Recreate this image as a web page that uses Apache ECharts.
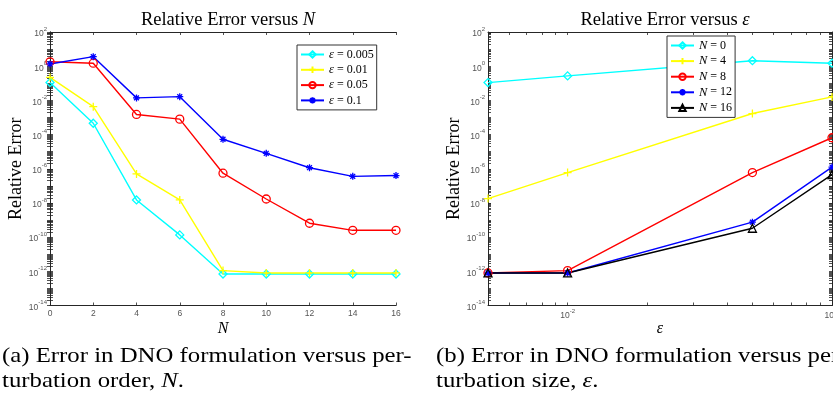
<!DOCTYPE html>
<html>
<head>
<meta charset="utf-8">
<script src="https://cdn.jsdelivr.net/npm/echarts@6/dist/echarts.min.js"></script>
<style>
  html, body { margin: 0; padding: 0; background: #fff; }
  #chart { width: 833px; height: 395px; }
</style>
</head>
<body>
<div id="chart"></div>
<script>
// left panel: error vs perturbation order N
const orders = [0, 2, 4, 6, 8, 10, 12, 14, 16]
const errEps0005 = [1.1e-1, 4.6e-4, 1.5e-8, 1.35e-10, 7e-13, 7e-13, 7e-13, 7e-13, 7e-13]
const errEps001 = [2.2e-1, 4.3e-3, 5e-7, 1.5e-8, 1.1e-12, 8e-13, 8e-13, 8e-13, 8e-13]
const errEps005 = [1.8, 1.5, 1.5e-3, 8e-4, 5.5e-7, 1.7e-8, 6.5e-10, 2.5e-10, 2.5e-10]
const errEps01 = [1.35, 3.6, 1.4e-2, 1.65e-2, 5.3e-5, 8e-6, 1.15e-6, 3.6e-7, 4e-7]

// right panel: error vs perturbation size eps
const epsValues = [0.005, 0.01, 0.05, 0.1]
const errN0 = [0.11, 0.27, 2.1, 1.5]
const errN4 = [1.8e-8, 6e-7, 1.7e-3, 1.6e-2]
const errN8 = [8e-13, 1.1e-12, 6e-7, 6.5e-5]
const errN12 = [8e-13, 8e-13, 7.5e-10, 1.25e-6]
const errN16 = [8e-13, 8e-13, 3.3e-10, 4.5e-7]

// tick labels
const nTickLabels = [0, 2, 4, 6, 8, 10, 12, 14, 16]
const errTickLabels = [1e-14, 1e-12, 1e-10, 1e-8, 1e-6, 1e-4, 1e-2, 1, 1e2]
const epsTickLabels = [0.01, 0.1]

// log minor tick positions (1..9 x 10^e)
function logTicks(lo, hi) {
  const out = []
  for (let e = lo; e < hi; e++) {
    for (let k = 1; k <= 9; k++) out.push(+(k * Math.pow(10, e)).toPrecision(3))
  }
  out.push(Math.pow(10, hi))
  return out
}
const errTicks = logTicks(-14, 2)
const epsTicks = logTicks(-3, -1).filter(v => v >= 0.005)

const serif = 'Liberation Serif, Times New Roman, serif'
const sans = 'Liberation Sans, Arial, sans-serif'
const axisColor = '#262626'

const expLabel = {
  color: '#555',
  fontFamily: sans,
  formatter: v => `{b|10}{s|${Math.round(Math.log10(v))}}`,
  rich: {
    b: { fontSize: 8.5, fontFamily: sans, color: '#555', lineHeight: 9, padding: [4, 0, 0, 0] },
    s: { fontSize: 6, fontFamily: sans, color: '#555', lineHeight: 7, padding: [0, 0, 6, 0] },
  },
}

function yAxis(gridIndex, position) {
  const ax = {
    type: 'log',
    logBase: 10,
    gridIndex,
    position,
    min: 1e-14,
    max: 1e2,
    axisLine: { show: true, lineStyle: { color: axisColor, width: 1 } },
    axisTick: { show: true, inside: true, length: 3, customValues: errTicks, lineStyle: { color: axisColor, width: 0.8 } },
    splitLine: { show: false },
    axisLabel: { show: false },
  }
  if (position === 'left') {
    ax.name = 'Relative Error'
    ax.nameLocation = 'middle'
    ax.nameGap = 25
    ax.nameMoveOverlap = false
    ax.nameTextStyle = { fontFamily: serif, fontSize: 18, color: '#000' }
    ax.axisLabel = { ...expLabel, margin: 3, customValues: errTickLabels }
  }
  return ax
}

function xAxis(gridIndex, position) {
  const isLog = gridIndex === 1
  const ax = {
    type: isLog ? 'log' : 'value',
    gridIndex,
    position,
    min: isLog ? 0.005 : 0,
    max: isLog ? 0.1 : 16,
    axisLine: { show: true, lineStyle: { color: axisColor } },
    axisTick: {
      show: true, inside: true, length: 3,
      customValues: isLog ? epsTicks : nTickLabels,
      lineStyle: { color: axisColor, width: 0.8 },
    },
    axisLabel: { show: false },
    splitLine: { show: false },
  }
  if (isLog) ax.logBase = 10
  if (position === 'bottom') {
    ax.name = isLog ? 'ε' : 'N'
    ax.nameLocation = 'middle'
    ax.nameGap = 15
    ax.nameMoveOverlap = false
    ax.nameTextStyle = { fontFamily: serif, fontSize: 16, fontStyle: 'italic', color: '#000' }
    ax.axisLabel = isLog
      ? { ...expLabel, margin: 4, customValues: epsTickLabels }
      : { color: '#555', fontFamily: sans, fontSize: 8.5, margin: 4, customValues: nTickLabels }
  }
  return ax
}

function mk(name, xs, ys, color, symbol, size, hollow, idx) {
  return {
    name,
    type: 'line',
    xAxisIndex: idx,
    yAxisIndex: idx,
    data: xs.map((x, i) => [x, ys[i]]),
    symbol,
    symbolSize: size,
    showSymbol: true,
    lineStyle: { color, width: 1.4 },
    itemStyle: {
      color: hollow ? 'rgba(255,255,255,0)' : color,
      borderColor: color,
      borderWidth: 1.3,
    },
    emphasis: { disabled: true },
  }
}

const plusPath = 'path://M0,5L10,5M5,0L5,10'
const starPath = 'path://M0,5L10,5M5,0L5,10M1.5,1.5L8.5,8.5M1.5,8.5L8.5,1.5'

const legendText = {
  fontFamily: serif,
  fontSize: 12,
  color: '#000',
  lineHeight: 15,
  rich: { i: { fontFamily: serif, fontSize: 12.5, fontStyle: 'italic', color: '#000', lineHeight: 15 } },
}
const legendFormatter = n => n.replace(/^(ε|N)/, '{i|$1}')

function legend(names, left, top, gap) {
  return {
    data: names,
    orient: 'vertical',
    left,
    top,
    itemWidth: 23,
    itemHeight: 8,
    itemGap: gap,
    padding: [2, 3, 2, 3],
    backgroundColor: '#fff',
    borderColor: '#333',
    borderWidth: 1,
    borderRadius: 0,
    textStyle: legendText,
    formatter: legendFormatter,
    selectedMode: false,
  }
}

function title(text, cx) {
  return {
    text,
    left: cx,
    top: 6,
    textAlign: 'center',
    textStyle: {
      fontFamily: serif, fontSize: 18.5, fontWeight: 'normal', color: '#000',
      rich: { i: { fontFamily: serif, fontSize: 18.5, fontStyle: 'italic', color: '#000' } },
    },
  }
}

function caption(text, x, y) {
  return {
    type: 'text', x, y, scaleX: 1.18,
    style: {
      text, fontFamily: serif, fontSize: 21, fill: '#000', verticalAlign: 'middle',
      rich: { i: { fontFamily: serif, fontSize: 21, fontStyle: 'italic', fill: '#000' } },
    },
  }
}

const chart = echarts.init(document.getElementById('chart'))
chart.setOption({
  animation: false,
  backgroundColor: '#fff',
  title: [title('Relative Error versus {i|N}', 223), title('Relative Error versus {i|ε}', 660)],
  grid: [
    { left: 50, top: 32, width: 346, height: 273.5, outerBoundsMode: 'none', containLabel: false },
    { left: 488, top: 32, width: 344, height: 273.5, outerBoundsMode: 'none', containLabel: false },
  ],
  // 0,1: bottom axes; 2,3: top mirrors
  xAxis: [xAxis(0, 'bottom'), xAxis(1, 'bottom'), xAxis(0, 'top'), xAxis(1, 'top')],
  yAxis: [yAxis(0, 'left'), yAxis(1, 'left'), yAxis(0, 'right'), yAxis(1, 'right')],
  legend: [
    legend(['ε = 0.005', 'ε = 0.01', 'ε = 0.05', 'ε = 0.1'], 297, 45, 0.3),
    legend(['N = 0', 'N = 4', 'N = 8', 'N = 12', 'N = 16'], 667, 36, 0.6),
  ],
  series: [
    mk('ε = 0.005', orders, errEps0005, '#00ffff', 'diamond', 8, true, 0),
    mk('ε = 0.01', orders, errEps001, '#ffff00', plusPath, 8, false, 0),
    mk('ε = 0.05', orders, errEps005, '#ff0000', 'circle', 8, true, 0),
    mk('ε = 0.1', orders, errEps01, '#0000ff', starPath, 7, false, 0),
    mk('N = 0', epsValues, errN0, '#00ffff', 'diamond', 8, true, 1),
    mk('N = 4', epsValues, errN4, '#ffff00', plusPath, 8, false, 1),
    mk('N = 8', epsValues, errN8, '#ff0000', 'circle', 8, true, 1),
    mk('N = 12', epsValues, errN12, '#0000ff', starPath, 7, false, 1),
    mk('N = 16', epsValues, errN16, '#000000', 'triangle', 8, true, 1),
  ],
  graphic: [
    caption('(a) Error in DNO formulation versus per-', 2, 356),
    caption('turbation order, {i|N}.', 2, 381),
    caption('(b) Error in DNO formulation versus per-', 436, 356),
    caption('turbation size, {i|ε}.', 436, 381),
  ],
})
</script>
</body>
</html>
